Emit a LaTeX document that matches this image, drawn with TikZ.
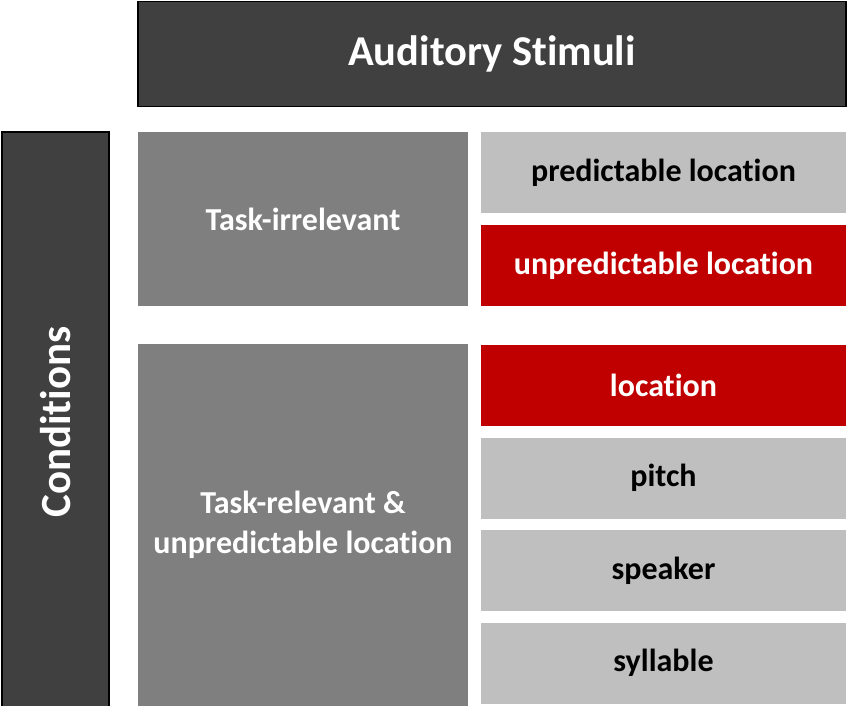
\documentclass[tikz,border=0pt]{standalone}
\usepackage{fontspec}
\setmainfont{Carlito}[Ligatures=NoCommon]
\usetikzlibrary{positioning}

\definecolor{darkgrey}{HTML}{404040}
\definecolor{midgrey}{HTML}{7F7F7F}
\definecolor{lightgrey}{HTML}{BFBFBF}
\definecolor{darkred}{HTML}{C00000}

\begin{document}
\begin{tikzpicture}[x=1pt, y=-1pt,
    cell/.style={rectangle, inner sep=0pt, outer sep=0pt, align=center,
        font=\bfseries\fontsize{32}{40}\selectfont},
    headbox/.style={cell, fill=darkgrey, draw=black, line width=1.2pt, text=white},
    groupbox/.style={cell, fill=midgrey, text=white, minimum width=330pt},
    itembox/.style={cell, minimum width=365pt, minimum height=81pt}]
    % Define dimensions
    \def\colx{663.5} % centre of the right column
    \def\step{92.5}  % distance between two items

    \clip (0,0) rectangle (847,706);

    % Header and side label
    \node[headbox, minimum width=708pt, minimum height=105pt,
        font=\bfseries\fontsize{42.5}{50}\selectfont] (stimuli) at (492,54) {Auditory Stimuli};
    \node[headbox, minimum width=580pt, minimum height=107pt, rotate=90,
        font=\bfseries\fontsize{43}{50}\selectfont] (conditions) at (55.5,422) {Conditions};

    % Condition groups
    \node[groupbox, minimum height=174pt] (irrelevant) at (303,219) {Task-irrelevant};
    \node[groupbox, minimum height=362pt] (relevant) at (303,525)
        {Task-relevant \&\\unpredictable location};

    % Task-irrelevant items
    \node[itembox, fill=lightgrey] (predictable) at (\colx,173) {predictable location};
    \node[itembox, fill=darkred, text=white] (unpredictable) at (\colx,265.5) {unpredictable location};

    % Task-relevant items
    \foreach \i/\name in {0/location, 1/pitch, 2/speaker, 3/syllable} {
        % red for the first one
        \ifnum\i=0
            \def\currcolor{darkred}
            \def\currtext{white}
        \else
            \def\currcolor{lightgrey}
            \def\currtext{black}
        \fi
        \node[itembox, fill=\currcolor, text=\currtext] (\name) at (\colx, 385.5 + \i*\step) {\name};
    }
\end{tikzpicture}
\end{document}
